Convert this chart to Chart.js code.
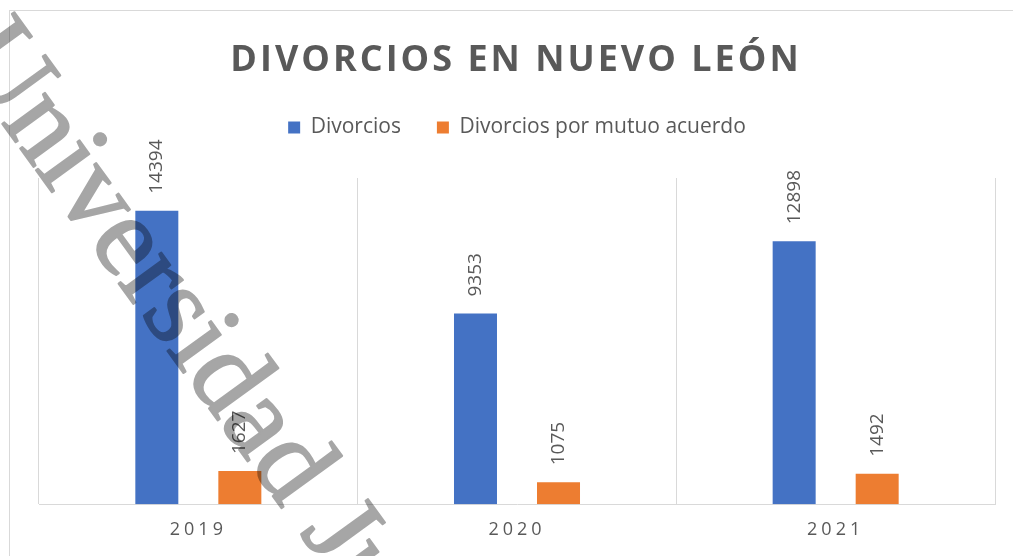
<!DOCTYPE html>
<html>
<head>
<meta charset="utf-8">
<script src="https://cdn.jsdelivr.net/npm/chart.js@4/dist/chart.umd.min.js"></script>
<style>
  html, body { margin: 0; padding: 0; background: #fff; }
  #wrap { width: 1013px; height: 556px; position: relative; }
</style>
</head>
<body>
<div id="wrap"><canvas id="chart"></canvas></div>
<script>
// Divorcios en Nuevo León - bar chart

const chartTitle = 'DIVORCIOS EN NUEVO LEÓN';
const years = ['2019', '2020', '2021'];
const divorcios = [14394, 9353, 12898];
const mutuoAcuerdo = [1627, 1075, 1492];
const seriesNames = ['Divorcios', 'Divorcios por mutuo acuerdo'];
const seriesColors = ['#4472C4', '#ED7D31'];
const watermarkText = 'Universidad Juárez';

const textGray = '#595959';
const lineGray = '#d9d9d9';

const decorPlugin = {
    id: 'decor',
    beforeInit(chart) {
        // extra room between legend and plot
        const fit = chart.legend.fit;
        chart.legend.fit = function() {
            fit.call(this);
            this.height += 30;
        };
    },
    beforeDraw(chart) {
        const ctx = chart.ctx;
        ctx.save();
        ctx.strokeStyle = lineGray;
        ctx.lineWidth = 1;
        ctx.strokeRect(9.5, 10.5, 1100, 700);
        ctx.restore();
    },
    afterDatasetsDraw(chart) {
        const ctx = chart.ctx;
        ctx.save();
        ctx.fillStyle = textGray;
        ctx.font = '19px "Open Sans"';
        ctx.textAlign = 'left';
        ctx.textBaseline = 'middle';
        chart.data.datasets.forEach((ds, i) => {
            chart.getDatasetMeta(i).data.forEach((bar, j) => {
                ctx.save();
                ctx.translate(bar.x, bar.y - 17);
                ctx.rotate(-Math.PI / 2);
                ctx.fillText(String(ds.data[j]), 0, 0);
                ctx.restore();
            });
        });
        ctx.restore();
        // spaced tick labels are drawn after this (ticks.z = 1)
        ctx.letterSpacing = '4px';
    },
    afterDraw(chart) {
        const ctx = chart.ctx;
        ctx.letterSpacing = '0px';
        // title
        ctx.save();
        ctx.fillStyle = textGray;
        ctx.font = 'bold 36px "Open Sans"';
        ctx.letterSpacing = '3px';
        ctx.textAlign = 'center';
        ctx.textBaseline = 'alphabetic';
        ctx.fillText(chartTitle, 516, 71);
        ctx.restore();
        // watermark, drawn off-screen then multiplied over the chart
        const off = document.createElement('canvas');
        off.width = chart.canvas.width;
        off.height = chart.canvas.height;
        const o = off.getContext('2d');
        o.fillStyle = 'rgb(166,166,166)';
        o.strokeStyle = 'rgb(166,166,166)';
        o.lineWidth = 2;
        o.lineJoin = 'round';
        o.font = '115px "Liberation Serif"';
        o.translate(-48, 54.5);
        o.rotate(54 * Math.PI / 180);
        o.fillText(watermarkText, 0, 0);
        o.strokeText(watermarkText, 0, 0);
        ctx.save();
        ctx.globalCompositeOperation = 'multiply';
        ctx.drawImage(off, 0, 0);
        ctx.restore();
    }
};

new Chart(document.getElementById('chart'), {
    type: 'bar',
    data: {
        labels: years,
        datasets: [
            { label: seriesNames[0], data: divorcios, backgroundColor: seriesColors[0] },
            { label: seriesNames[1], data: mutuoAcuerdo, backgroundColor: seriesColors[1] }
        ]
    },
    options: {
        responsive: true,
        maintainAspectRatio: false,
        animation: false,
        categoryPercentage: 0.521,
        barPercentage: 0.518,
        layout: { padding: { top: 81, left: 39, right: 18, bottom: 0 } },
        plugins: {
            title: { display: false },
            tooltip: { enabled: false },
            legend: {
                display: true,
                position: 'top',
                labels: {
                    boxWidth: 12,
                    boxHeight: 12,
                    padding: 36,
                    color: textGray,
                    font: { family: '"Open Sans"', size: 21 }
                }
            }
        },
        scales: {
            x: {
                grid: { display: true, color: lineGray, lineWidth: 1, drawTicks: false, offset: true },
                border: { display: true, color: lineGray },
                ticks: {
                    z: 1,
                    padding: 16,
                    color: textGray,
                    font: { family: '"Open Sans"', size: 18, lineHeight: 1.1 }
                }
            },
            y: {
                display: false,
                min: 0,
                max: 16000
            }
        }
    },
    plugins: [decorPlugin]
});
</script>
</body>
</html>
